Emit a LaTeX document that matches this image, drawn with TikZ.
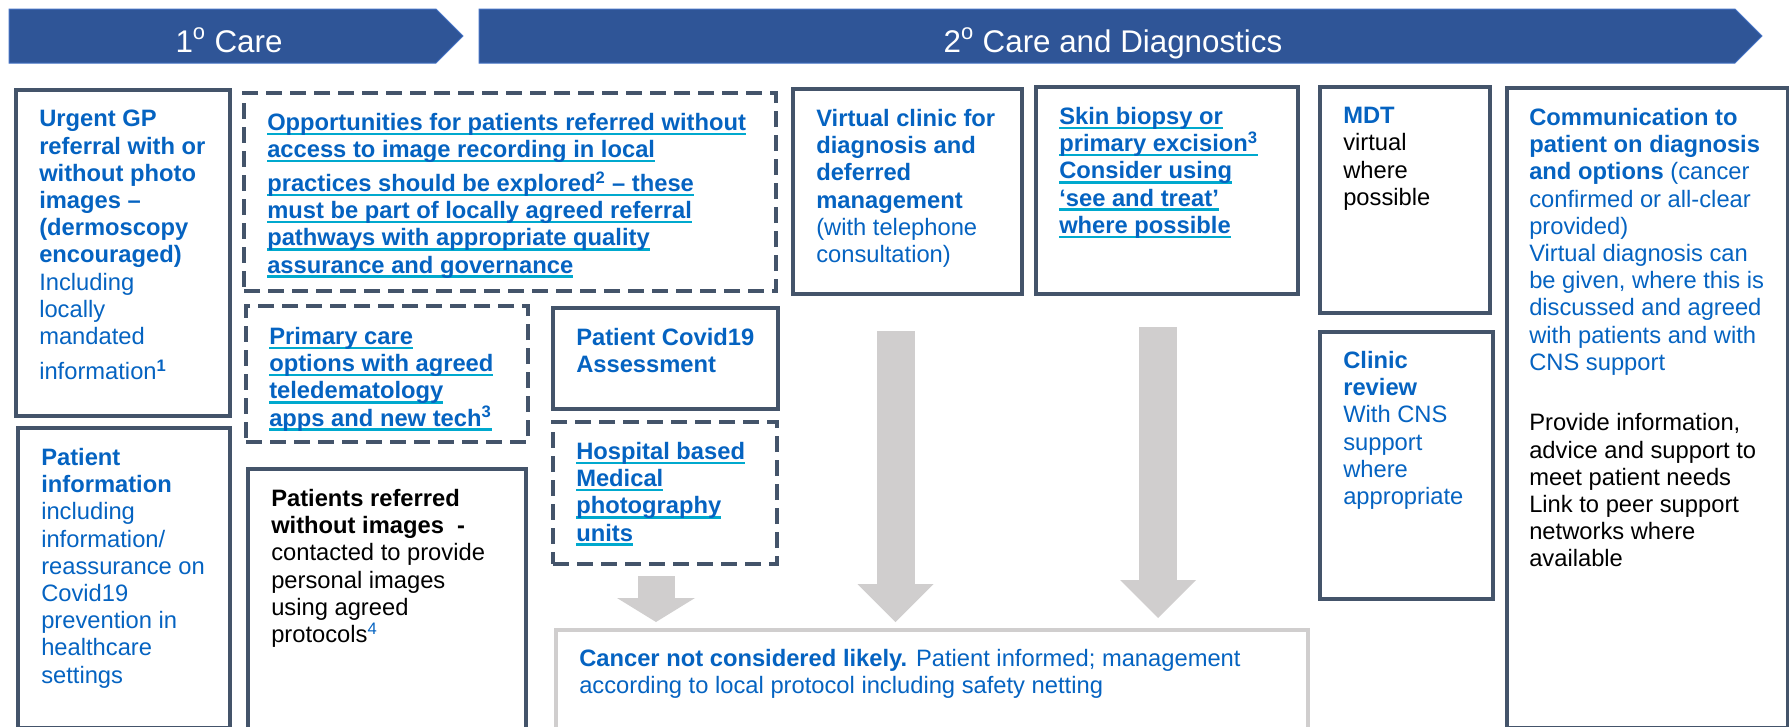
\documentclass[tikz,border=0pt]{standalone}
\usepackage{fontspec}
\setmainfont{Liberation Sans}
\usetikzlibrary{arrows.meta,calc,positioning}

\definecolor{nhsblue}{RGB}{5,99,193}
\definecolor{linkline}{RGB}{0,169,206}
\definecolor{slate}{RGB}{68,84,106}
\definecolor{arrowgrey}{RGB}{208,206,206}
\definecolor{headblue}{RGB}{47,85,151}
\definecolor{headline}{RGB}{68,114,196}

\newlength\px
\setlength\px{0.75pt}
\newsavebox\lnkbox
\newcommand\lnk[1]{\sbox\lnkbox{\textbf{#1}}\rlap{\color{linkline}\rule[-3.5pt]{\wd\lnkbox}{1.8pt}}\usebox\lnkbox}
\newcommand\bt[1]{\textbf{#1}}
\newcommand\blk[1]{\textcolor{black}{#1}}
\newcommand\boxfont{\fontsize{17.8}{20.4}\selectfont}

\begin{document}
\begin{tikzpicture}
		[x=0.75pt, y=-0.75pt,
		box/.style		= {draw=slate, line width=3pt, anchor=north west, inner sep=0pt, outer sep=0pt},
		dashbox/.style	= {box, dash pattern=on 12pt off 6pt},
		greybox/.style	= {box, draw=arrowgrey},
		boxsize/.style 2 args = {minimum width=#1\px, minimum height=#2\px},
		txt/.style		= {anchor=north west, inner sep=0pt, align=left, font=\boxfont, text=nhsblue},
		banner/.style	= {fill=headblue, draw=headline, line width=0.75pt},
		heading/.style	= {anchor=base, inner sep=0pt, text=white, font=\fontsize{23.5}{28}\selectfont},
		fat/.style		= {draw=arrowgrey, line width=28.5pt, -{Triangle[length=28.5pt, width=57pt, line width=0pt]}},
		stub/.style		= {draw=arrowgrey, line width=27.75pt, -{Triangle[length=18pt, width=58.5pt, line width=0pt]}}]
		
		\useasboundingbox (0,0) rectangle (1789,726);
		
		% banners
		\filldraw [banner] (9,9) -- (436,9) -- (463,36) -- (436,63) -- (9,63) -- cycle;
		\filldraw [banner] (479,9) -- (1735,9) -- (1762,36) -- (1735,63) -- (479,63) -- cycle;
		\node at (229, 52)		[heading]	(care1)		{1\textsuperscript{o} Care};
		\node at (1113, 52)		[heading]	(care2)		{2\textsuperscript{o} Care and Diagnostics};
		
		% boxes
		\node at (16, 90)		[box, boxsize={214}{326}]		(urgent)	{};
		\node at (18, 428)		[box, boxsize={212}{300}]		(patinfo)	{};
		\node at (244, 93)		[dashbox, boxsize={532}{198}]	(opport)	{};
		\node at (246, 306)		[dashbox, boxsize={282}{136}]	(primary)	{};
		\node at (248, 469)		[box, boxsize={278}{260}]		(noimg)		{};
		\node at (553, 308)		[box, boxsize={225}{101}]		(covid)		{};
		\node at (553, 422)		[dashbox, boxsize={224}{142}]	(hospital)	{};
		\node at (793, 89)		[box, boxsize={229}{205}]		(virtual)	{};
		\node at (1036, 87)		[box, boxsize={262}{207}]		(biopsy)	{};
		\node at (1320, 87)		[box, boxsize={170}{226}]		(mdt)		{};
		\node at (1320, 332)	[box, boxsize={173}{267}]		(clinic)	{};
		\node at (1507, 88)		[box, boxsize={281}{640}]		(comms)		{};
		\node at (556, 630)		[greybox, boxsize={752}{100}]	(notlikely)	{};
		
		% texts
		\node at ([shift={(23,20)}]urgent.north west)	[txt]	(urgenttxt)	{\bt{Urgent GP}\\ \bt{referral with or}\\ \bt{without photo}\\ \bt{images --}\\ \bt{(dermoscopy}\\ \bt{encouraged)}\\ Including\\ locally\\ mandated\\[6pt] information\textsuperscript{\bt{1}}};
		\node at ([shift={(23,20)}]patinfo.north west)	[txt]	(patinfotxt)	{\bt{Patient}\\ \bt{information}\\ including\\ information/\\ reassurance on\\ Covid19\\ prevention in\\ healthcare\\ settings};
		\node at ([shift={(23,20)}]opport.north west)	[txt]	(opporttxt)	{\lnk{Opportunities for patients referred without}\\ \lnk{access to image recording in local}\\[5pt] \lnk{practices should be explored\textsuperscript{2} -- these}\\ \lnk{must be part of locally agreed referral}\\ \lnk{pathways with appropriate quality}\\ \lnk{assurance and governance}};
		\node at ([shift={(23,21)}]primary.north west)	[txt]	(primarytxt)	{\lnk{Primary care}\\ \lnk{options with agreed}\\ \lnk{teledematology}\\ \lnk{apps and new tech\textsuperscript{3}}};
		\node at ([shift={(23,20)}]noimg.north west)	[txt, text=black]	(noimgtxt)	{\bt{Patients referred}\\ \bt{without images}\ \ \bt{-}\\ contacted to provide\\ personal images\\ using agreed\\ protocols\textsuperscript{\color{nhsblue}4}};
		\node at ([shift={(23,20)}]covid.north west)	[txt]	(covidtxt)	{\bt{Patient Covid19}\\ \bt{Assessment}};
		\node at ([shift={(23,20)}]hospital.north west)	[txt]	(hospitaltxt)	{\lnk{Hospital based}\\ \lnk{Medical}\\ \lnk{photography}\\ \lnk{units}};
		\node at ([shift={(23,20)}]virtual.north west)	[txt]	(virtualtxt)	{\bt{Virtual clinic for}\\ \bt{diagnosis and}\\ \bt{deferred}\\ \bt{management}\\ (with telephone\\ consultation)};
		\node at ([shift={(23,20)}]biopsy.north west)	[txt]	(biopsytxt)	{\lnk{Skin biopsy or}\\ \lnk{primary excision\textsuperscript{3}}\\ \lnk{Consider using}\\ \lnk{`see and treat'}\\ \lnk{where possible}};
		\node at ([shift={(23,20)}]mdt.north west)		[txt]	(mdttxt)	{\bt{MDT}\\ \blk{virtual}\\ \blk{where}\\ \blk{possible}};
		\node at ([shift={(23,19)}]clinic.north west)	[txt]	(clinictxt)	{\bt{Clinic}\\ \bt{review}\\ With CNS\\ support\\ where\\ appropriate};
		\node at ([shift={(22,20)}]comms.north west)	[txt]	(commstxt)	{\bt{Communication to}\\ \bt{patient on diagnosis}\\ \bt{and options} (cancer\\ confirmed or all-clear\\ provided)\\ Virtual diagnosis can\\ be given, where this is\\ discussed and agreed\\ with patients and with\\ CNS support\\[25pt] \blk{Provide information,}\\ \blk{advice and support to}\\ \blk{meet patient needs}\\ \blk{Link to peer support}\\ \blk{networks where}\\ \blk{available}};
		\node at ([shift={(23,19)}]notlikely.north west)	[txt]	(notlikelytxt)	{\bt{Cancer not considered likely.} Patient informed; management\\ according to local protocol including safety netting};
		
		% grey arrows
		\draw [stub]	($(hospital.south)+(-9,12)$) -- ($(hospital.south |- notlikely.north)+(-9,-8)$);
		\draw [fat]		($(virtual.south)+(-12,37)$) -- ($(virtual.south |- notlikely.north)+(-12,-8)$);
		\draw [fat]		($(biopsy.south)+(-9,33)$) -- ($(biopsy.south |- notlikely.north)+(-9,-12)$);
		
\end{tikzpicture}
\end{document}
